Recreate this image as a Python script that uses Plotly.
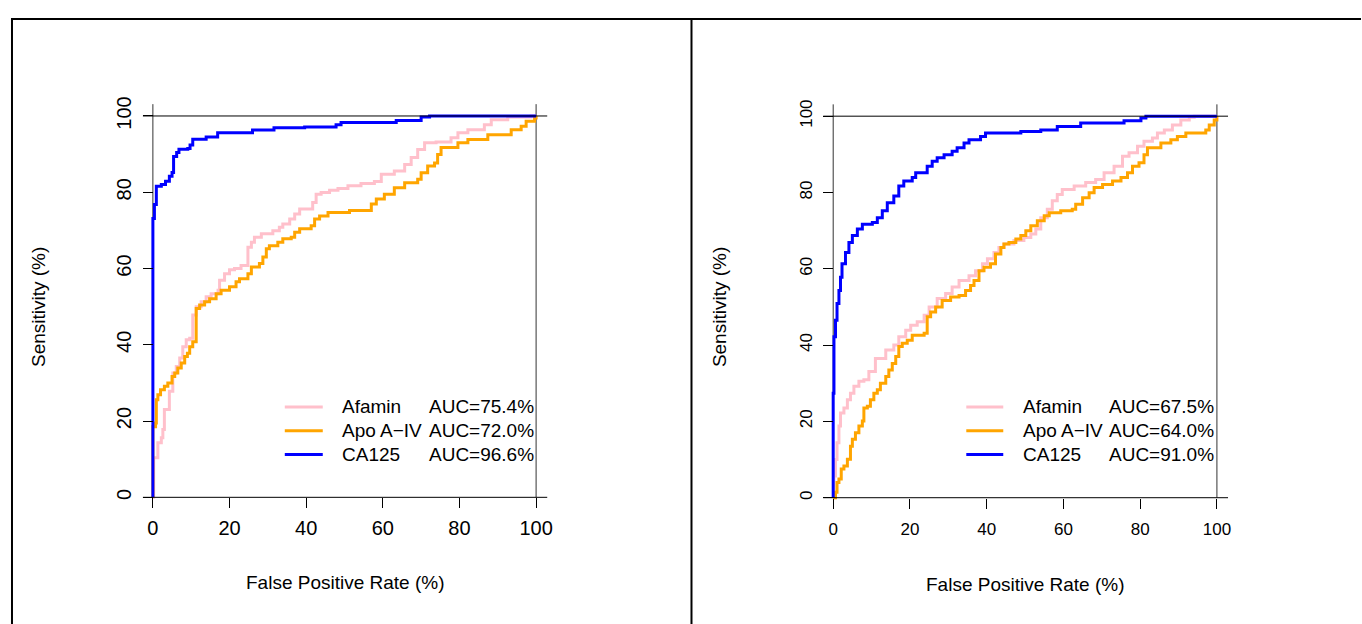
import plotly.graph_objects as go

# ---------------------------------------------------------------------------
# ROC curves (percent scale). Each series is a list of step vertices:
# at each false-positive rate the sensitivity jumps to the paired value.
# ---------------------------------------------------------------------------
markers = ["Afamin", "Apo A\u2212IV", "CA125"]
colors = ["#FFC0CB", "#FFA500", "#0000FF"]

# Panel 1
auc_left = ["75.4%", "72.0%", "96.6%"]
left_afamin_fpr = [0, 0.2, 1.3, 2.2, 2.6, 3.0, 4.3, 5.2, 6.1, 7.0, 7.8, 8.7, 9.6, 10.4, 11.3, 12.6,
                   13.9, 15.2, 17.0, 17.4, 18.7, 20.0, 21.3, 23.0, 24.8, 25.7, 26.5, 28.3, 31.3, 33.0,
                   33.9, 35.7, 37.0, 38.3, 41.7, 42.6, 43.9, 46.1, 48.3, 50.9, 54.3, 57.8, 59.6, 63.0,
                   65.7, 67.4, 69.1, 70.9, 73.9, 77.8, 79.6, 82.2, 86.5, 88.3, 92.6, 98.7, 100]
left_afamin_tpr = [0, 10.4, 14.3, 15.6, 17.8, 23.0, 27.8, 32.6, 34.3, 36.5, 39.5, 41.3, 41.7, 47.8,
                   50.0, 51.3, 52.6, 53.4, 54.3, 56.9, 58.6, 59.7, 60.0, 60.8, 65.6, 66.9, 68.2, 69.1,
                   69.9, 70.8, 71.7, 73.0, 74.3, 75.6, 77.3, 79.5, 79.9, 80.5, 81.0, 81.7, 82.3, 82.8,
                   84.7, 85.6, 87.3, 89.1, 91.2, 93.0, 93.2, 94.3, 95.6, 96.4, 97.7, 99.0, 99.7, 100, 100]
left_apo_fpr = [0, 0, 0.7, 0.9, 1.3, 2.0, 3.0, 3.9, 5.0, 5.7, 6.5, 7.4, 8.3, 9.0, 9.6, 10.4, 11.3,
                12.2, 13.5, 14.8, 16.5, 17.8, 20.0, 21.7, 22.6, 24.8, 25.7, 27.8, 28.7, 29.6, 30.4,
                32.6, 33.9, 36.1, 37.0, 38.3, 41.3, 42.2, 43.5, 45.7, 51.3, 57.0, 58.3, 60.4, 63.0,
                65.7, 69.1, 70.0, 71.7, 73.5, 74.3, 75.2, 79.6, 82.2, 87.4, 93.5, 96.1, 97.4, 99.6, 100]
left_apo_tpr = [0, 18.5, 19.5, 25.6, 26.9, 28.2, 29.1, 30.0, 31.7, 32.6, 33.9, 35.2, 36.9, 37.8,
                39.5, 40.8, 49.5, 50.4, 51.3, 52.1, 53.4, 54.3, 55.2, 56.5, 57.3, 58.6, 60.4, 61.3,
                63.0, 65.2, 66.0, 66.9, 67.8, 68.2, 69.5, 70.4, 71.2, 73.0, 73.8, 74.7, 75.2, 76.9,
                78.2, 79.5, 81.2, 82.5, 83.4, 85.1, 86.9, 87.7, 89.9, 91.7, 93.0, 93.8, 95.1, 96.4,
                97.3, 98.6, 99.5, 100]
left_ca125_fpr = [0, 0, 0.4, 0.9, 2.2, 3.3, 4.3, 5.0, 5.4, 6.2, 6.8, 9.1, 9.7, 10.4, 13.9, 16.9,
                  26.0, 31.6, 39.6, 47.8, 49.1, 63.5, 70.0, 72.2, 100]
left_ca125_tpr = [0, 73.1, 76.8, 81.6, 82.0, 82.9, 84.2, 85.2, 89.4, 90.4, 91.3, 91.5, 92.4, 93.9,
                  94.5, 95.6, 96.3, 96.9, 97.1, 97.7, 98.3, 98.8, 99.7, 100, 100]

# Panel 2
auc_right = ["67.5%", "64.0%", "91.0%"]
right_afamin_fpr = [0, 0.2, 0.6, 1.0, 1.5, 1.9, 2.8, 3.7, 4.5, 5.4, 6.7, 8.0, 9.3, 11.0, 13.7, 15.8,
                    17.1, 18.9, 20.2, 21.9, 23.7, 25.0, 27.1, 29.3, 31.0, 32.8, 35.4, 37.1, 38.9, 40.2,
                    41.9, 43.2, 44.5, 47.1, 49.7, 51.5, 52.8, 54.1, 55.8, 57.1, 58.4, 59.7, 62.8, 65.8,
                    68.4, 70.6, 73.2, 75.4, 77.1, 79.3, 81.0, 83.2, 84.5, 86.3, 88.4, 90.6, 92.8, 94.1, 100]
right_afamin_tpr = [0, 5.7, 10.0, 14.4, 18.8, 22.2, 23.5, 25.7, 27.4, 29.2, 30.5, 30.9, 33.1, 36.5,
                    38.7, 40.0, 42.2, 43.9, 45.2, 46.1, 47.8, 50.0, 52.2, 53.5, 55.2, 56.9, 58.2, 59.5,
                    61.3, 62.6, 64.3, 65.6, 66.5, 67.4, 68.2, 69.1, 70.4, 73.4, 75.6, 77.8, 79.5, 80.8,
                    81.7, 82.6, 83.4, 85.2, 86.9, 89.5, 90.4, 92.1, 93.4, 94.3, 95.6, 96.4, 97.7, 99.0,
                    99.7, 100, 100]
right_apo_fpr = [0, 0.6, 1.0, 1.5, 2.1, 2.8, 3.7, 4.5, 5.0, 5.8, 6.7, 7.6, 8.0, 8.9, 9.7, 10.6, 11.5,
                 12.3, 13.7, 14.5, 15.4, 16.3, 17.1, 18.0, 19.3, 20.6, 23.7, 24.5, 25.4, 26.7, 28.4,
                 30.6, 32.8, 34.5, 35.8, 36.7, 38.0, 39.3, 41.0, 42.3, 43.7, 44.5, 45.8, 47.6, 48.9,
                 50.2, 51.5, 53.2, 55.0, 56.3, 59.3, 62.3, 63.2, 65.0, 66.7, 68.0, 70.2, 72.8, 75.0,
                 76.7, 78.0, 79.7, 81.0, 81.9, 85.4, 88.0, 89.7, 91.9, 97.1, 98.0, 99.3, 100]
right_apo_tpr = [0, 1.4, 4.0, 4.9, 7.5, 8.3, 10.1, 13.5, 15.3, 17.0, 18.8, 20.1, 23.5, 24.0, 25.7,
                 27.4, 28.3, 30.0, 31.8, 33.5, 35.2, 37.0, 39.6, 40.5, 41.3, 42.6, 43.1, 47.4, 48.7,
                 50.0, 51.7, 52.6, 53.0, 54.3, 55.6, 56.9, 59.5, 60.4, 61.3, 63.9, 65.6, 66.5, 66.9,
                 67.8, 68.7, 70.0, 71.3, 72.6, 73.9, 74.7, 75.2, 75.6, 76.9, 78.6, 79.9, 81.3, 82.1,
                 83.0, 83.9, 85.2, 86.9, 87.8, 89.9, 91.7, 93.0, 93.8, 94.7, 95.6, 96.4, 97.7, 99.0, 100]
right_ca125_fpr = [0, 0, 0.2, 0.6, 1.0, 1.5, 1.9, 2.3, 3.2, 4.1, 5.0, 6.3, 7.6, 10.2, 11.5, 12.8,
                   14.1, 15.8, 17.1, 18.4, 20.6, 21.5, 24.5, 25.8, 27.1, 28.9, 31.0, 32.3, 34.1, 35.4,
                   38.4, 39.7, 48.9, 54.1, 58.4, 64.5, 75.8, 80.2, 81.5, 100]
right_ca125_tpr = [0, 27.4, 42.2, 46.5, 50.9, 54.3, 57.8, 61.3, 64.3, 66.9, 68.7, 70.4, 71.7, 72.1,
                   73.4, 75.2, 77.3, 79.1, 81.7, 83.0, 83.9, 85.2, 86.9, 88.2, 89.1, 89.9, 90.8, 91.7,
                   93.0, 93.8, 94.7, 95.6, 96.0, 96.4, 97.3, 98.2, 98.8, 99.5, 100, 100]

tick_vals = [0, 20, 40, 60, 80, 100]

# ---------------------------------------------------------------------------
# Page geometry (pixels)
# ---------------------------------------------------------------------------
W, H = 1362, 624
FONT = "Liberation Sans, Arial, Helvetica, sans-serif"


def fx(p):
    return p / W


def fy(p):
    return 1 - p / H


# pixel positions of the 0 and 100 marks for each panel: (x0, x100, y0, y100)
panels = [
    dict(x0=153.0, x100=536.5, y0=496.5, y100=112.7, tick=20, xsuf="", ysuf="",
         xstand=3, ystand=4,
         leg_line=(285, 323), leg_name=340, leg_auc=427, xtitle=345.5, ytitle=38, xt_y=582),
    dict(x0=833.8, x100=1217.8, y0=496.9, y100=112.9, tick=17, xsuf="2", ysuf="2",
         xstand=6, ystand=4,
         leg_line=(967, 1004), leg_name=1021.5, leg_auc=1108, xtitle=1026.6, ytitle=719.6, xt_y=584),
]
legend_rows = [405.5, 429.5, 453.5]
PAD = 4  # axis padding beyond 0..100, in data units

fig = go.Figure()

series = [
    [(left_afamin_fpr, left_afamin_tpr), (left_apo_fpr, left_apo_tpr), (left_ca125_fpr, left_ca125_tpr)],
    [(right_afamin_fpr, right_afamin_tpr), (right_apo_fpr, right_apo_tpr), (right_ca125_fpr, right_ca125_tpr)],
]
aucs = [auc_left, auc_right]

shapes = []
annotations = []

for pi, p in enumerate(panels):
    xa = "x" + p["xsuf"]
    ya = "y" + p["ysuf"]
    for (fpr, tpr), name, col in zip(series[pi], markers, colors):
        fig.add_trace(go.Scatter(
            x=fpr, y=tpr, mode="lines", name=name,
            line=dict(color=col, width=3, shape="hv"),
            xaxis=xa, yaxis=ya, showlegend=False, hoverinfo="skip",
        ))

    sx = (p["x100"] - p["x0"]) / 100.0
    sy = (p["y0"] - p["y100"]) / 100.0
    xdom = [fx(p["x0"] - PAD * sx), fx(p["x100"] + PAD * sx)]
    ydom = [fy(p["y0"] + PAD * sy), fy(p["y100"] - PAD * sy)]

    axis_common = dict(
        range=[-PAD, 100 + PAD], showgrid=False, zeroline=False, showline=False,
        ticks="outside", ticklen=10, tickwidth=1, tickcolor="black",
        tickvals=tick_vals, tickfont=dict(family=FONT, size=p["tick"], color="black"),
        anchor="free", fixedrange=True,
    )
    fig.update_layout(**{
        "xaxis" + p["xsuf"]: dict(axis_common, domain=xdom, position=fy(p["y0"]),
                                  ticklabelstandoff=p["xstand"]),
        "yaxis" + p["ysuf"]: dict(axis_common, domain=ydom, position=fx(p["x0"]), tickangle=-90,
                                  ticklabelstandoff=p["ystand"]),
    })

    # box lines at 0 and 100 on both axes
    for yv in (0, 100):
        shapes.append(dict(type="line", xref=xa, yref=ya, x0=-2.6, x1=102.9, y0=yv, y1=yv,
                           line=dict(color="black", width=1)))
    for xv in (0, 100):
        shapes.append(dict(type="line", xref=xa, yref=ya, x0=xv, x1=xv, y0=0, y1=103.1,
                           line=dict(color="#333333", width=1), layer="below"))

    # axis titles
    annotations.append(dict(text="False Positive Rate (%)", xref="paper", yref="paper",
                            x=fx(p["xtitle"]), y=fy(p["xt_y"]), xanchor="center", yanchor="middle",
                            showarrow=False, font=dict(family=FONT, size=19, color="black")))
    annotations.append(dict(text="Sensitivity (%)", xref="paper", yref="paper",
                            x=fx(p["ytitle"]), y=fy(305), xanchor="center", yanchor="middle",
                            textangle=-90, showarrow=False,
                            font=dict(family=FONT, size=19, color="black")))

    # legend: line swatch, marker name, AUC
    for row, name, col, auc in zip(legend_rows, markers, colors, aucs[pi]):
        shapes.append(dict(type="line", xref="paper", yref="paper",
                           x0=fx(p["leg_line"][0]), x1=fx(p["leg_line"][1]),
                           y0=fy(row), y1=fy(row), line=dict(color=col, width=3)))
        annotations.append(dict(text=name, xref="paper", yref="paper",
                                x=fx(p["leg_name"]), y=fy(row), xanchor="left", yanchor="middle",
                                showarrow=False, font=dict(family=FONT, size=19, color="black")))
        annotations.append(dict(text="AUC=" + auc, xref="paper", yref="paper",
                                x=fx(p["leg_auc"]), y=fy(row), xanchor="left", yanchor="middle",
                                showarrow=False, font=dict(family=FONT, size=19, color="black")))

# outer frame: top rule, left edge and the divider between panels
frame = dict(type="line", xref="paper", yref="paper", line=dict(color="black", width=2))
shapes.append(dict(frame, x0=fx(11), x1=1, y0=fy(15), y1=fy(15)))
shapes.append(dict(frame, x0=fx(12), x1=fx(12), y0=fy(15), y1=0))
shapes.append(dict(frame, x0=fx(692), x1=fx(692), y0=fy(15), y1=0))

fig.update_layout(
    width=W, height=H, autosize=False,
    margin=dict(l=0, r=0, t=0, b=0),
    paper_bgcolor="white", plot_bgcolor="white",
    shapes=shapes, annotations=annotations,
    showlegend=False,
    font=dict(family=FONT, color="black"),
)

fig.write_html("out.html", config={"displayModeBar": False})
